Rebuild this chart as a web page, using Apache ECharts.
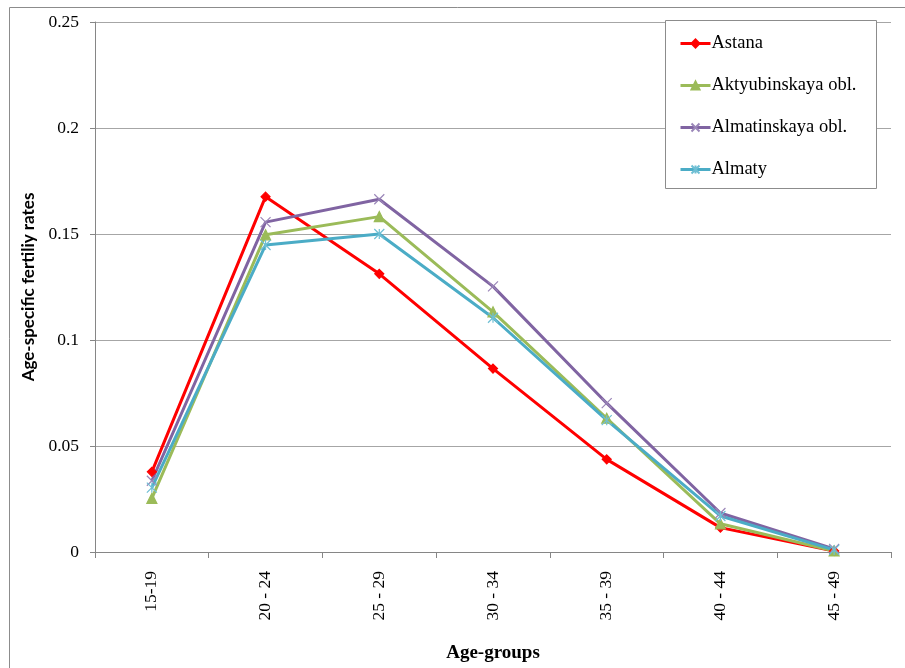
<!DOCTYPE html>
<html>
<head>
<meta charset="utf-8">
<script src="https://cdn.jsdelivr.net/npm/echarts@6/dist/echarts.min.js"></script>
<style>
  html, body { margin: 0; padding: 0; background: #ffffff; overflow: hidden; width: 905px; height: 668px; }
  #chart { position: absolute; left: 0; top: 0; width: 905px; height: 668px; }
</style>
</head>
<body>
<div id="chart"></div>
<script>
// Age groups on the category axis
const ageGroups = ['15-19', '20 - 24', '25 - 29', '30 - 34', '35 - 39', '40 - 44', '45 - 49'];

// Age-specific fertility rates by region
const astana        = [0.0378, 0.1676, 0.1312, 0.0865, 0.0437, 0.0115, 0.0005];
const aktyubinskaya = [0.0253, 0.1496, 0.1582, 0.1133, 0.0631, 0.0133, 0.0005];
const almatinskaya  = [0.0336, 0.1556, 0.1664, 0.1253, 0.0702, 0.0184, 0.0014];
const almaty        = [0.0304, 0.1448, 0.1500, 0.1105, 0.0622, 0.0170, 0.0010];

// Axis ticks
const yTicks = { min: 0, max: 0.25, interval: 0.05 };

const serif = '"Liberation Serif", "Times New Roman", serif';

const xMark = 'path://M0,0L10,10M10,0L0,10';
const starMark = 'path://M0,0L10,10M10,0L0,10M5,0L5,10';

function lineSeries(name, data, color, symbol, size, markColor) {
  const stroke = markColor || color;
  return {
    name: name,
    type: 'line',
    data: data,
    symbol: symbol,
    symbolSize: size,
    lineStyle: { color: color, width: 3 },
    itemStyle: { color: stroke, borderColor: stroke, borderWidth: 1.2 },
    emphasis: { disabled: true },
    animation: false
  };
}

const chart = echarts.init(document.getElementById('chart'));
chart.setOption({
  backgroundColor: '#ffffff',
  animation: false,
  grid: { left: 95, width: 796, top: 22, height: 543, containLabel: false },
  graphic: [
    {
      type: 'rect',
      shape: { x: 9.5, y: 7.5, width: 1000, height: 1000 },
      style: { fill: 'none', stroke: '#8c8c8c', lineWidth: 1 },
      z: -1
    },
    {
      type: 'rect',
      shape: { x: 665.5, y: 20.5, width: 211, height: 168 },
      style: { fill: '#ffffff', stroke: '#8c8c8c', lineWidth: 1 },
      z: 50
    }
  ],
  legend: {
    orient: 'vertical',
    left: 665,
    top: 20,
    padding: [14, 10, 10, 14],
    itemGap: 23,
    itemWidth: 30,
    itemHeight: 10,
    z: 60,
    lineStyle: { width: 3 },
    textStyle: { fontFamily: serif, fontSize: 18.5, lineHeight: 16, color: '#000000', padding: [0, 0, 0, -4] },
    data: ['Astana', 'Aktyubinskaya obl.', 'Almatinskaya obl.', 'Almaty']
  },
  xAxis: {
    type: 'category',
    data: ageGroups,
    boundaryGap: true,
    name: 'Age-groups',
    nameLocation: 'middle',
    nameGap: 92,
    nameTextStyle: { fontFamily: serif, fontSize: 19, fontWeight: 'bold', color: '#000000' },
    axisLine: { lineStyle: { color: '#868686', width: 1 } },
    axisTick: { show: true, length: 6, lineStyle: { color: '#868686' } },
    axisLabel: { rotate: 90, margin: 19, fontFamily: serif, fontSize: 17.5, color: '#000000' },
    splitLine: { show: false }
  },
  yAxis: {
    type: 'value',
    min: yTicks.min,
    max: yTicks.max,
    interval: yTicks.interval,
    name: 'Age-specific fertiliy rates',
    nameLocation: 'middle',
    nameGap: 58,
    nameRotate: 90,
    nameTextStyle: { fontFamily: 'Lato, "Liberation Sans", sans-serif', fontSize: 17, fontWeight: 'bold', color: '#000000' },
    axisLine: { show: true, lineStyle: { color: '#868686', width: 1 } },
    axisTick: { show: true, length: 5, lineStyle: { color: '#868686' } },
    axisLabel: { margin: 16, fontFamily: serif, fontSize: 17.5, color: '#000000', formatter: v => String(+v.toFixed(2)) },
    splitLine: { show: true, lineStyle: { color: '#a6a6a6', width: 1 } }
  },
  series: [
    lineSeries('Astana', astana, '#ff0000', 'diamond', 9),
    lineSeries('Aktyubinskaya obl.', aktyubinskaya, '#9bbb59', 'triangle', 10),
    lineSeries('Almatinskaya obl.', almatinskaya, '#8064a2', xMark, 10, '#9a86b8'),
    lineSeries('Almaty', almaty, '#4bacc6', starMark, 10, '#6fbfd4')
  ]
});
</script>
</body>
</html>
